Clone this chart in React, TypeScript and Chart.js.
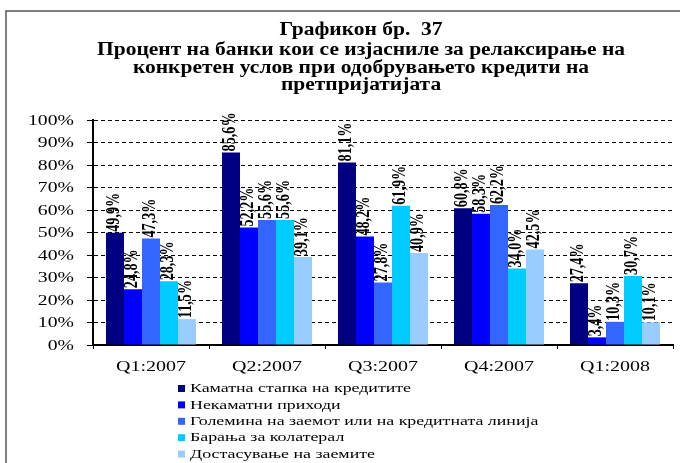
import React, { useEffect, useRef } from "react";
import { Chart, registerables } from "chart.js";

Chart.register(...registerables);

const categories = ["Q1:2007", "Q2:2007", "Q3:2007", "Q4:2007", "Q1:2008"];
const seriesNames = [
  "Каматна стапка на кредитите",
  "Некаматни приходи",
  "Големина на заемот или на кредитната линија",
  "Барања за колатерал",
  "Достасување на заемите",
];
const interestRate = [49.9, 85.6, 81.1, 60.8, 27.4];
const nonInterestFees = [24.8, 52.2, 48.2, 58.3, 3.4];
const loanSize = [47.3, 55.6, 27.8, 62.2, 10.3];
const collateral = [28.3, 55.6, 61.9, 34.0, 30.7];
const maturity = [11.5, 39.1, 40.9, 42.5, 10.1];
const seriesColors = ["#000080", "#0000FF", "#3366FF", "#00CCFF", "#99CCFF"];
const yTickValues = [0, 10, 20, 30, 40, 50, 60, 70, 80, 90, 100];
const titleLines = [
  "Графикон бр.  37",
  "Процент на банки кои се изјасниле за релаксирање на",
  "конкретен услов при одобрувањето кредити на",
  "претпријатијата",
];

const SERIF = '"Liberation Serif", "Times New Roman", serif';

function fmtPct(v: number) {
  return v.toFixed(1).replace(".", ",") + "%";
}

function measure(ctx: CanvasRenderingContext2D, text: string, font: string) {
  ctx.save();
  ctx.font = font;
  const w = ctx.measureText(text).width;
  ctx.restore();
  return w;
}

function drawStretched(
  ctx: CanvasRenderingContext2D,
  text: string,
  x: number,
  y: number,
  font: string,
  sx: number,
  align: CanvasTextAlign,
  baseline: CanvasTextBaseline
) {
  ctx.save();
  ctx.font = font;
  ctx.fillStyle = "#000";
  ctx.translate(x, y);
  ctx.scale(sx, 1);
  ctx.textAlign = align;
  ctx.textBaseline = baseline;
  ctx.fillText(text, 0, 0);
  ctx.restore();
}

const decorPlugin = {
  id: "decor",
  afterDatasetsDraw(chart: any) {
    const ctx: CanvasRenderingContext2D = chart.ctx;
    const baseW = measure(ctx, "49,9%", `bold 10px ${SERIF}`);
    const size = (39 / baseW) * 10;
    const labelFont = `bold ${size.toFixed(2)}px ${SERIF}`;
    const lsx = 1.4;
    chart.data.datasets.forEach((ds: any, di: number) => {
      const meta = chart.getDatasetMeta(di);
      meta.data.forEach((bar: any, i: number) => {
        const text = fmtPct(ds.data[i]);
        ctx.save();
        ctx.font = labelFont;
        ctx.fillStyle = "#000";
        ctx.translate(bar.x - 1, bar.y - 1);
        ctx.scale(lsx, 1);
        ctx.rotate(-Math.PI / 2);
        ctx.textAlign = "left";
        ctx.textBaseline = "middle";
        ctx.fillText(text, 0, 0);
        ctx.restore();
      });
    });
  },
  afterDraw(chart: any) {
    const ctx: CanvasRenderingContext2D = chart.ctx;
    // frame
    ctx.save();
    ctx.strokeStyle = "#555";
    ctx.lineWidth = 1.5;
    ctx.beginPath();
    ctx.moveTo(6, 470);
    ctx.lineTo(6, 11);
    ctx.lineTo(690, 11);
    ctx.stroke();
    ctx.restore();

    // title
    const tFont = `bold 18px ${SERIF}`;
    const tsx = 528 / measure(ctx, titleLines[1], tFont);
    const baselines = [35, 55, 73, 90];
    titleLines.forEach((line, i) => {
      drawStretched(ctx, line, 361, baselines[i], tFont, tsx, "center", "alphabetic");
    });

    // y tick labels
    const yScale = chart.scales.y;
    const yFont = `14px ${SERIF}`;
    const ysx = 46 / measure(ctx, "100%", yFont);
    yTickValues.forEach((v) => {
      drawStretched(ctx, v + "%", 74, yScale.getPixelForValue(v) + 1, yFont, ysx, "right", "middle");
    });

    // x labels
    const xScale = chart.scales.x;
    const xFont = `14.5px ${SERIF}`;
    const xsx = 70 / measure(ctx, "Q1:2007", xFont);
    categories.forEach((c, i) => {
      drawStretched(ctx, c, xScale.getPixelForValue(i), 367, xFont, xsx, "center", "middle");
    });

    // legend
    const lFont = `12px ${SERIF}`;
    const lsx = 221 / measure(ctx, seriesNames[0], lFont);
    chart.data.datasets.forEach((ds: any, i: number) => {
      const cy = 388.5 + i * 16.4;
      ctx.save();
      ctx.fillStyle = ds.backgroundColor;
      ctx.fillRect(178, cy - 3.5, 7, 7);
      ctx.restore();
      drawStretched(ctx, ds.label, 190, cy + 0.5, lFont, lsx, "left", "middle");
    });
  },
};

export default function App() {
  const ref = useRef<HTMLCanvasElement | null>(null);
  useEffect(() => {
    document.body.style.margin = "0";
    const canvas = ref.current;
    if (!canvas) return;
    const seriesData = [interestRate, nonInterestFees, loanSize, collateral, maturity];
    const chart = new Chart(canvas, {
      type: "bar",
      data: {
        labels: categories,
        datasets: seriesData.map((d, i) => ({
          label: seriesNames[i],
          data: d,
          backgroundColor: seriesColors[i],
          borderWidth: 0,
          barPercentage: 1,
          categoryPercentage: 0.776,
        })),
      },
      options: {
        responsive: false,
        animation: false,
        devicePixelRatio: 1,
        layout: { padding: { left: 87, right: 7, top: 120, bottom: 114 } },
        plugins: {
          legend: { display: false },
          title: { display: false },
          tooltip: { enabled: false },
        },
        scales: {
          x: {
            offset: true,
            ticks: { display: false },
            grid: {
              display: true,
              offset: true,
              drawOnChartArea: false,
              drawTicks: true,
              tickLength: 4,
              tickColor: "#000",
              tickWidth: 1,
              color: "#000",
            },
            border: { display: true, color: "#000", width: 2 },
          },
          y: {
            min: 0,
            max: 100,
            ticks: { display: false, stepSize: 10 },
            grid: {
              color: "#000",
              lineWidth: 1,
              drawTicks: true,
              tickLength: 6,
              tickColor: "#000",
              tickWidth: 1,
              tickBorderDash: [],
            },
            border: { display: true, color: "#000", width: 2, dash: [4, 3] },
          },
        },
      },
      plugins: [decorPlugin],
    });
    return () => chart.destroy();
  }, []);
  return <canvas ref={ref} width={680} height={463} style={{ display: "block", width: 680, height: 463 }} />;
}
